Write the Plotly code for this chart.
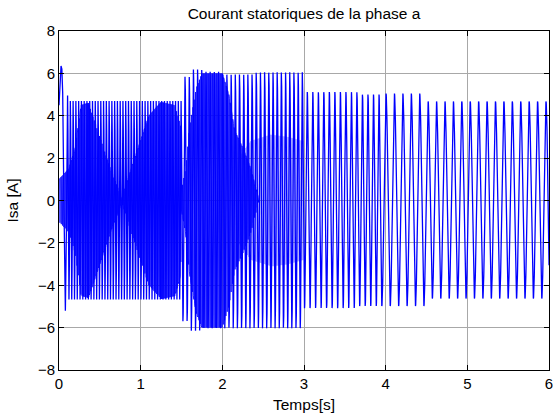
import numpy as np
import plotly.graph_objects as go

# ---- data ----
# piecewise segments of the stator current: start time, positive peak, negative peak, apparent frequency
seg_t0 = [0.0, 1.5, 1.62, 1.75, 2.0, 2.4, 3.0, 3.65, 3.95, 4.5]
seg_top = [4.70, 5.85, 6.18, 6.08, 5.95, 6.05, 5.12, 5.00, 5.05, 4.68]
seg_bot = [-4.67, -5.70, -6.15, -6.03, -6.03, -6.03, -5.08, -4.98, -4.98, -4.63]
seg_freq = [29.5, 19.5, 19.5, 19.5, 19.5, 19.5, 14.8, 14.8, 9.7, 9.7]
t_end = 6.0

# start-up transient (time [s], current [A])
start_t = [0.0, 0.010, 0.025, 0.035, 0.045, 0.060, 0.078, 0.092, 0.105]
start_i = [4.5, 5.6, 6.35, 6.2, 5.1, 0.0, -5.2, -1.0, 4.95]

# half-height of the densely filled (aliased) band, time [s] / current [A]
band_t = [0.0, 0.12, 0.20, 0.27, 0.36, 0.50, 0.63, 0.77, 0.91, 1.10, 1.25, 1.42, 1.49,
          1.50, 1.55, 1.60, 1.68, 1.75, 2.00, 2.08, 2.15, 2.25, 2.35, 2.45]
band_a = [1.0, 1.5, 2.5, 4.5, 4.6, 3.0, 1.5, 0.1, 1.8, 4.0, 4.65, 4.5, 3.5,
          0.5, 1.5, 3.5, 5.3, 6.0, 6.0, 5.0, 3.3, 2.5, 1.5, 0.0]

# lighter, partly covered band between 2.2 s and 3 s
light_t = [2.20, 2.35, 2.60, 2.80, 2.99]
light_a = [2.0, 2.8, 3.1, 3.0, 2.8]

# ---- build the traces ----
t0 = start_t[-1]
dt = 1.0 / (max(seg_freq) * 24)
t = np.arange(t0, t_end + dt / 2, dt)
idx = np.searchsorted(seg_t0, t, side="right") - 1
f = np.asarray(seg_freq)[idx]
phase = 2 * np.pi * np.concatenate([[0.0], np.cumsum(f[:-1] * dt)])
c = np.cos(phase)
top = np.asarray(seg_top)[idx]
bot = -np.asarray(seg_bot)[idx]
y_wave = np.where(c >= 0, top * c, bot * c)

x_line = np.concatenate([start_t, t[1:]])
y_line = np.concatenate([start_i, y_wave[1:]])

dtf = 0.004
tb = np.arange(band_t[0], band_t[-1], dtf)
env = np.interp(tb, band_t, band_a)
y_band = np.where(np.arange(tb.size) % 2 == 0, 1.0, -1.0) * env

tl = np.arange(light_t[0], light_t[-1], dtf)
envl = np.interp(tl, light_t, light_a)
y_light = np.where(np.arange(tl.size) % 2 == 0, 1.0, -1.0) * envl

fig = go.Figure()
fig.add_trace(go.Scatter(x=tl, y=y_light, mode="lines", opacity=0.35,
                         line=dict(color="#0000ff", width=0.8), hoverinfo="skip"))
fig.add_trace(go.Scatter(x=tb, y=y_band, mode="lines",
                         line=dict(color="#0000ff", width=0.8), hoverinfo="skip"))
fig.add_trace(go.Scatter(x=x_line, y=y_line, mode="lines",
                         line=dict(color="#0000ff", width=1.3)))

font = "Liberation Sans, Arial, Helvetica, sans-serif"
axis_common = dict(showline=True, linecolor="black", linewidth=1, mirror="ticks",
                   ticks="inside", ticklen=5, tickcolor="black",
                   showgrid=True, gridcolor="#a8a8a8", gridwidth=1,
                   zeroline=False, automargin=False, ticklabeloverflow="allow",
                   tickfont=dict(family=font, size=15, color="black"))

fig.update_layout(
    width=553, height=414,
    margin=dict(l=59, r=4, t=31, b=44),
    paper_bgcolor="white", plot_bgcolor="white",
    showlegend=False,
    title=dict(text="Courant statoriques de la phase a", xref="paper", x=0.5,
               xanchor="center", yref="container", y=1 - 14 / 414, yanchor="middle",
               font=dict(family=font, size=15.5, color="black")),
    xaxis=dict(range=[0, 6], tickvals=[0, 1, 2, 3, 4, 5, 6], **axis_common),
    yaxis=dict(range=[-8, 8], tickvals=[-8, -6, -4, -2, 0, 2, 4, 6, 8], **axis_common),
    annotations=[
        dict(text="Temps[s]", xref="paper", yref="paper", x=0.5, y=0, yshift=-34,
             showarrow=False, xanchor="center", yanchor="middle",
             font=dict(family=font, size=15.5, color="black")),
        dict(text="Isa [A]", xref="paper", yref="paper", x=0, y=0.5, xshift=-47,
             showarrow=False, textangle=-90, xanchor="center", yanchor="middle",
             font=dict(family=font, size=15.5, color="black")),
    ],
)

fig.write_html("out.html")
